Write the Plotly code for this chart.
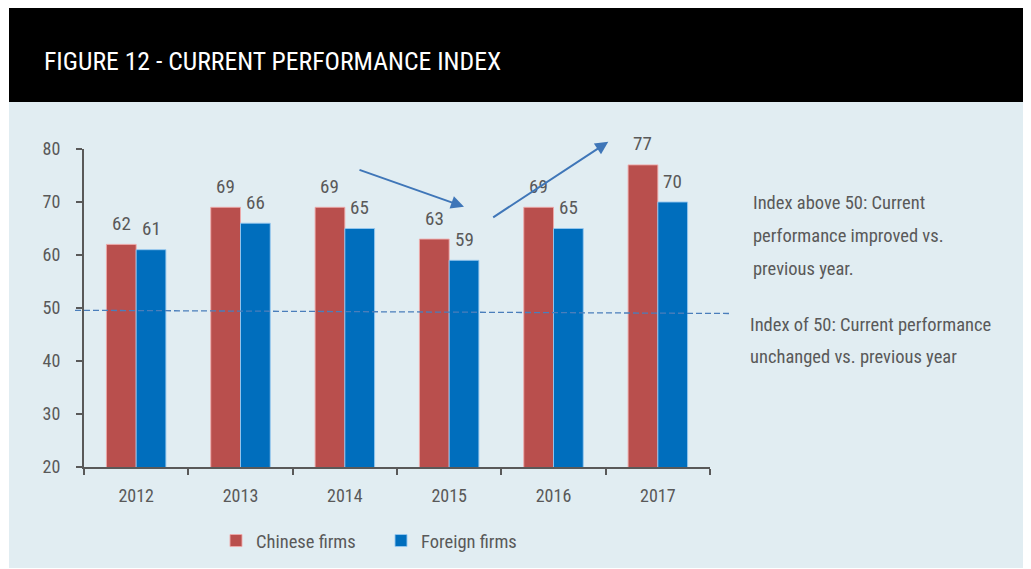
import plotly.graph_objects as go

years = ["2012", "2013", "2014", "2015", "2016", "2017"]
chinese = [62, 69, 69, 63, 69, 77]
foreign = [61, 66, 65, 59, 65, 70]
y_ticks = [20, 30, 40, 50, 60, 70, 80]

title_text = "FIGURE 12 - CURRENT PERFORMANCE INDEX"
note_above = ["Index above 50: Current", "performance improved vs.", "previous year."]
note_equal = ["Index of 50: Current performance", "unchanged vs. previous year"]

FONT = "Liberation Sans Narrow, Roboto Condensed, DejaVu Sans Condensed, Arial Narrow, sans-serif"
GREY = "#595959"
RED = "#B94F4D"
BLUE = "#006EBD"
PANEL = "#E1EDF2"
ARROW = "#3F76B8"

W, H = 1031, 569
OFF = 8  # page body margin
# plot area box in screen pixels
L, R, T, B = 84, 710, 149, 467


def px(x):
    return (x - L) / (R - L)


def py(y):
    return (B - y) / (B - T)


fig = go.Figure()
fig.add_trace(go.Bar(x=years, y=chinese, name="Chinese firms",
                     marker=dict(color=RED, line=dict(color="rgba(240,170,170,0.9)", width=1))))
fig.add_trace(go.Bar(x=years, y=foreign, name="Foreign firms",
                     marker=dict(color=BLUE, line=dict(color="rgba(150,200,240,0.9)", width=1))))

annotations = []
# data labels (x given as category index)
for i, v in enumerate(chinese):
    annotations.append(dict(x=i, y=v, xref="x", yref="y", text=str(v), showarrow=False,
                            xshift=-15, yshift=21, yanchor="middle",
                            font=dict(family=FONT, size=19, color=GREY)))
for i, v in enumerate(foreign):
    annotations.append(dict(x=i, y=v, xref="x", yref="y", text=str(v), showarrow=False,
                            xshift=15, yshift=21, yanchor="middle",
                            font=dict(family=FONT, size=19, color=GREY)))

# title
annotations.append(dict(x=px(42), y=py(61), xref="paper", yref="paper", text=title_text,
                        showarrow=False, xanchor="left", yanchor="middle",
                        font=dict(family=FONT, size=25.7, color="white")))

# side notes
for i, line in enumerate(note_above):
    annotations.append(dict(x=px(751), y=py(203 + i * 33), xref="paper", yref="paper", text=line,
                            showarrow=False, xanchor="left", yanchor="middle",
                            font=dict(family=FONT, size=18.5, color=GREY)))
for i, line in enumerate(note_equal):
    annotations.append(dict(x=px(748), y=py(325 + i * 32), xref="paper", yref="paper", text=line,
                            showarrow=False, xanchor="left", yanchor="middle",
                            font=dict(family=FONT, size=18.5, color=GREY)))

# trend arrows
annotations.append(dict(x=px(464), y=py(206.7), xref="paper", yref="paper", ax=358 - 464, ay=169.3 - 206.7,
                        text="", showarrow=True, arrowhead=2, arrowsize=1.3, arrowwidth=2, arrowcolor=ARROW))
annotations.append(dict(x=px(608.3), y=py(141.7), xref="paper", yref="paper", ax=491.7 - 608.3, ay=218.3 - 141.7,
                        text="", showarrow=True, arrowhead=2, arrowsize=1.3, arrowwidth=2, arrowcolor=ARROW))

shapes = [
    dict(type="rect", xref="paper", yref="paper", x0=px(9), x1=px(1045), y0=py(102), y1=py(8),
         fillcolor="black", line=dict(width=0), layer="below"),
    dict(type="rect", xref="paper", yref="paper", x0=px(9), x1=px(1045), y0=py(568), y1=py(102),
         fillcolor=PANEL, line=dict(width=0), layer="below"),
    dict(type="line", xref="paper", yref="y", x0=px(75), x1=px(732), y0=49.57, y1=48.96,
         line=dict(color="#4A7EBB", width=1.3, dash="6px,3px")),
]

fig.update_layout(
    width=W, height=H,
    margin=dict(l=L - OFF, r=W - (R - OFF), t=T - OFF, b=H - (B - OFF), autoexpand=False),
    paper_bgcolor="white",
    plot_bgcolor="rgba(0,0,0,0)",
    barmode="group", bargap=0.43, bargroupgap=0,
    font=dict(family=FONT, size=18, color=GREY),
    showlegend=True,
    legend=dict(orientation="h", x=px(216), y=py(541), xanchor="left", yanchor="middle",
                font=dict(family=FONT, size=18.5, color=GREY), itemwidth=30,
                entrywidth=120, entrywidthmode="pixels",
                bgcolor="rgba(0,0,0,0)", traceorder="normal"),
    annotations=annotations,
    shapes=shapes,
    xaxis=dict(type="category", range=[-0.5, len(years) - 0.5], showline=True, linecolor=GREY, linewidth=2,
               ticks="outside", ticklen=6,
               tickcolor=GREY, tickwidth=2, tickson="boundaries", showgrid=False,
               tickfont=dict(family=FONT, size=18, color=GREY), ticklabelstandoff=11),
    yaxis=dict(range=[20, 80], tickvals=y_ticks, showline=True, linecolor=GREY, linewidth=2,
               ticks="outside", ticklen=6, tickcolor=GREY, tickwidth=2, showgrid=False,
               zeroline=False, tickfont=dict(family=FONT, size=18, color=GREY), ticklabelstandoff=12),
)

fig.write_html("out.html")
